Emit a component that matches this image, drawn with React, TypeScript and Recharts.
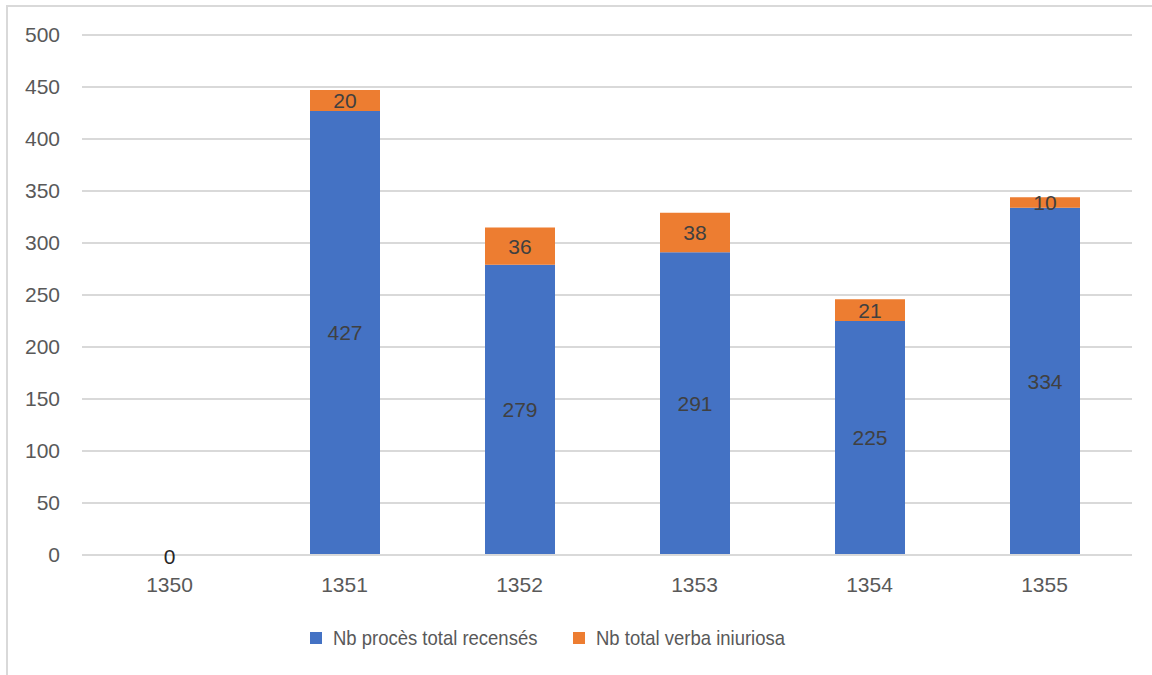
import React from "react";
import { BarChart, Bar, XAxis, YAxis, CartesianGrid, LabelList, ReferenceDot } from "recharts";

const years = ["1350", "1351", "1352", "1353", "1354", "1355"];
const procesTotal = [0, 427, 279, 291, 225, 334];
const verbaIniuriosa = [0, 20, 36, 38, 21, 10];
const yTicks = [0, 50, 100, 150, 200, 250, 300, 350, 400, 450, 500];

const seriesNames = ["Nb procès total recensés", "Nb total verba iniuriosa"];
const colors = ["#4472C4", "#ED7D31"];

const data = years.map((y, i) => ({ year: y, proces: procesTotal[i], verba: verbaIniuriosa[i] }));

const FONT = "'Liberation Sans', Arial, sans-serif";

export default function App() {
  const legendText: React.CSSProperties = { display: "inline-block", transform: "scaleX(0.88)", transformOrigin: "left center" };
  return (
    <div style={{ position: "absolute", left: 0, top: 0, width: 1152, height: 675, overflow: "hidden", background: "#fff", fontFamily: FONT }}>
      <div style={{ position: "absolute", left: 6, top: 5, width: 1200, height: 700, borderLeft: "2px solid #d9d9d9", borderTop: "2px solid #d9d9d9" }} />
      <div style={{ position: "absolute", left: 0, top: 0 }}>
        <BarChart width={1152} height={675} data={data} margin={{ top: 35, right: 20, left: 22, bottom: 90 }} barSize={70}>
          <CartesianGrid vertical={false} stroke="#d9d9d9" strokeWidth={2} />
          <XAxis
            dataKey="year"
            tickLine={false}
            axisLine={{ stroke: "#d9d9d9", strokeWidth: 2 }}
            tick={{ fill: "#595959", fontSize: 21, fontFamily: FONT }}
            tickMargin={16}
            height={30}
          />
          <YAxis
            domain={[0, 500]}
            ticks={yTicks}
            width={60}
            axisLine={false}
            tickLine={false}
            tickMargin={16}
            tick={{ fill: "#595959", fontSize: 21, fontFamily: FONT }}
          />
          <Bar dataKey="proces" stackId="a" fill={colors[0]} isAnimationActive={false}>
            <LabelList dataKey="proces" position="center" fill="#404040" fontSize={21} fontFamily={FONT} />
          </Bar>
          <Bar dataKey="verba" stackId="a" fill={colors[1]} isAnimationActive={false}>
            <LabelList dataKey="verba" position="center" fill="#404040" fontSize={21} fontFamily={FONT} />
          </Bar>
          {data
            .filter((d) => d.proces + d.verba === 0)
            .map((d) => (
              <ReferenceDot
                key={d.year}
                x={d.year}
                y={0}
                r={0}
                stroke="none"
                fill="none"
                label={{ value: String(d.proces), position: "center", fill: "#262626", fontSize: 21, fontFamily: FONT, dy: 2 }}
              />
            ))}
        </BarChart>
      </div>
      <div style={{ position: "absolute", left: 310, top: 626, display: "flex", alignItems: "center", fontSize: 21, color: "#595959", whiteSpace: "nowrap" }}>
        <span style={{ display: "inline-block", width: 12, height: 12, background: colors[0], marginRight: 11 }} />
        <span style={legendText}>{seriesNames[0]}</span>
      </div>
      <div style={{ position: "absolute", left: 573, top: 626, display: "flex", alignItems: "center", fontSize: 21, color: "#595959", whiteSpace: "nowrap" }}>
        <span style={{ display: "inline-block", width: 12, height: 12, background: colors[1], marginRight: 11 }} />
        <span style={legendText}>{seriesNames[1]}</span>
      </div>
    </div>
  );
}
